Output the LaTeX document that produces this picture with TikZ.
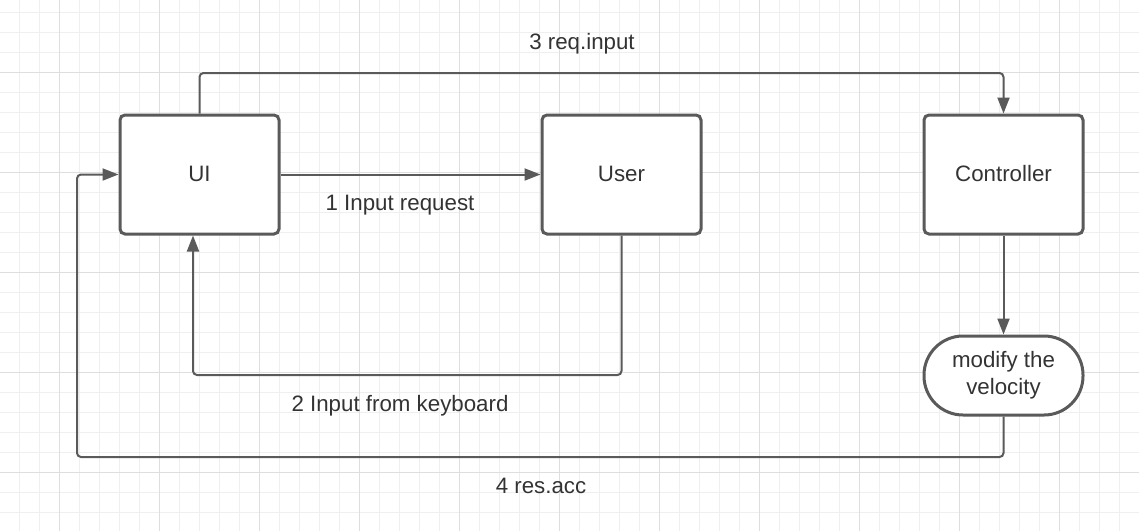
\documentclass[tikz,border=0pt]{standalone}
\usepackage{fontspec}
\setmainfont{Liberation Sans}
\usetikzlibrary{arrows.meta,calc}
\definecolor{linegray}{HTML}{5A5A5A}
\definecolor{textgray}{HTML}{333333}
\definecolor{gridminor}{HTML}{EFEFEF}
\definecolor{gridmajor}{HTML}{DEDEDE}
\newcommand\lcol{linegray}

\begin{document}
\begin{tikzpicture}[
      x=1pt, y=-1pt,
      box/.style={draw=\lcol,line width=3pt,rounded corners=5pt,fill=white,
        minimum width=159pt,minimum height=119pt,inner sep=0pt,
        font=\fontsize{22.3}{27}\selectfont,text=textgray},
      pill/.style={box,rounded corners=39pt,minimum height=79pt,align=center},
      link/.style={draw=\lcol,line width=2pt,rounded corners=4pt,
        -{Triangle[length=16pt,width=12pt]}},
      lbl/.style={font=\fontsize{22.3}{27}\selectfont,text=textgray}
    ]
    \fill[white] (0,0) rectangle (1139,531);
    \useasboundingbox (0,0) rectangle (1139,531);

    % grid
    \foreach \x in {-1,19,...,1139}{
      \draw[gridminor, line width=1pt] (\x,0) -- (\x,531);
    }
    \foreach \y in {12,32,...,531}{
      \draw[gridminor, line width=1pt] (0,\y) -- (1139,\y);
    }
    \foreach \x in {59,159,...,1139}{
      \draw[gridmajor, line width=1pt] (\x,0) -- (\x,531);
    }
    \foreach \y in {72,172,...,531}{
      \draw[gridmajor, line width=1pt] (0,\y) -- (1139,\y);
    }

    \node[box] (ui) at (199.5,174.5) {\raisebox{2pt}{UI}};
    \node[box] (user) at (621.5,174.5) {\raisebox{2pt}{User}};
    \node[box] (ctrl) at (1003.5,174.5) {\raisebox{2pt}{Controller}};
    \node[pill] (modify) at (1003.5,375.5) {modify the\\velocity};

    \draw[link] (ui.east) -- (user.west);
    \node[lbl] (req) at (400,205) {1 Input request};

    \draw[link] (user.south) |- (193,375) coordinate (kb) -- ($(ui.south)+(-6.5,0)$);
    \node[lbl] (keyb) at (400,406) {2 Input from keyboard};

    \draw[link] (ui.north) |- (1003.5,73) coordinate (top) -- (ctrl.north);
    \node[lbl] (reqin) at (582,44) {3 req.input};

    \draw[link] (ctrl.south) -- (modify.north);

    \draw[link] (modify.south) |- (77,457) coordinate (bot) |- (ui.west);
    \node[lbl] (res) at (541,486) {4 res.acc};
  \end{tikzpicture}
\end{document}
